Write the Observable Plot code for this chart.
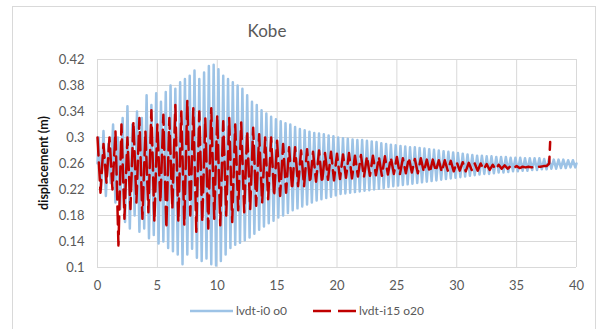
<!DOCTYPE html>
<html>
<head>
<meta charset="utf-8">
<script src="https://cdn.jsdelivr.net/npm/d3@7"></script>
<script src="https://cdn.jsdelivr.net/npm/@observablehq/plot@0.6"></script>
<style>
  html, body { margin: 0; padding: 0; background: #fff; }
  #wrap { position: relative; width: 600px; height: 329px; overflow: hidden; font-family: Lato, "Liberation Sans", sans-serif; }
  #frame { position: absolute; left: 12px; top: 6px; width: 584px; height: 340px; border: 1px solid #d9d9d9; box-sizing: border-box; }
  #title { position: absolute; left: 167px; width: 200px; top: 20px; text-align: center; font-size: 17px; color: #595959; }
  #ylab { position: absolute; left: -10px; top: 154px; width: 110px; height: 18px; text-align: center; transform: rotate(-90deg); font-size: 12.5px; font-weight: bold; color: #111; white-space: nowrap; }
  #chart { position: absolute; left: 0; top: 0; }
  .leg { position: absolute; top: 303px; font-size: 12px; color: #595959; display: flex; align-items: center; white-space: nowrap; }
  .leg svg { margin-right: 3px; }
</style>
</head>
<body>
<div id="wrap">
  <div id="frame"></div>
  <div id="chart"></div>
  <div id="title">Kobe</div>
  <div id="ylab">displacement (m)</div>
  <div class="leg" style="left:190px"><svg width="43" height="6"><line x1="0" y1="3" x2="43" y2="3" stroke="#9dc3e6" stroke-width="2.5"/></svg>lvdt-i0 o0</div>
  <div class="leg" style="left:313px"><svg width="43" height="6"><line x1="0" y1="3" x2="43" y2="3" stroke="#c00000" stroke-width="2.5" stroke-dasharray="18,7"/></svg>lvdt-i15 o20</div>
</div>
<script>
const seriesNames = ["lvdt-i0 o0", "lvdt-i15 o20"];
const xTicks = [0, 5, 10, 15, 20, 25, 30, 35, 40];
const yTicks = [0.1, 0.14, 0.18, 0.22, 0.26, 0.3, 0.34, 0.38, 0.42];

// Blue series: successive cycle peaks and troughs (sample spacing 0.4 s)
const blueStep = 0.4;
const blueMax = [
 0.30,0.31,0.29,0.32,0.30,0.33,0.348,0.32,0.34,0.33,
 0.365,0.35,0.368,0.355,0.37,0.38,0.375,0.385,0.39,0.395,
 0.403,0.39,0.40,0.41,0.412,0.405,0.395,0.39,0.385,0.38,
 0.375,0.365,0.355,0.35,0.342,0.337,0.332,0.328,0.325,0.322,
 0.32,0.316,0.313,0.311,0.309,0.307,0.306,0.305,0.303,0.302,
 0.30,0.299,0.298,0.297,0.296,0.296,0.295,0.294,0.293,0.291,
 0.29,0.289,0.288,0.287,0.286,0.285,0.285,0.284,0.283,0.282,
 0.281,0.28,0.279,0.278,0.277,0.276,0.275,0.274,0.273,0.272,
 0.272,0.271,0.271,0.270,0.270,0.270,0.269,0.269,0.269,0.268,
 0.268,0.268,0.268,0.267,0.267,0.266,0.266,0.266,0.265,0.265
];
const blueMin = [
 0.22,0.21,0.23,0.20,0.19,0.17,0.16,0.18,0.155,0.16,
 0.145,0.15,0.137,0.14,0.13,0.125,0.12,0.105,0.12,0.129,
 0.115,0.11,0.114,0.105,0.103,0.11,0.12,0.13,0.135,0.138,
 0.142,0.146,0.152,0.158,0.163,0.168,0.172,0.177,0.18,0.184,
 0.188,0.191,0.194,0.197,0.20,0.203,0.205,0.207,0.209,0.211,
 0.213,0.214,0.215,0.216,0.217,0.218,0.219,0.22,0.221,0.222,
 0.224,0.225,0.226,0.227,0.228,0.229,0.23,0.231,0.232,0.233,
 0.234,0.235,0.236,0.237,0.238,0.239,0.24,0.241,0.242,0.243,
 0.244,0.244,0.245,0.246,0.246,0.247,0.248,0.248,0.249,0.249,
 0.25,0.25,0.251,0.251,0.252,0.252,0.253,0.253,0.254,0.254
];
const blueStart = 0.26, blueEnd = 0.26;

// Red series: readings every 0.25 s, then the final spike
const redStep = 0.25;
const redVals = [
 0.30,0.215,0.29,0.23,0.30,0.22,0.31,0.134,0.32,0.175,
 0.30,0.19,0.325,0.20,0.33,0.175,0.31,0.185,0.342,0.17,
 0.32,0.20,0.335,0.16,0.33,0.19,0.35,0.17,0.34,0.165,
 0.357,0.18,0.345,0.155,0.34,0.17,0.33,0.16,0.345,0.175,
 0.335,0.165,0.325,0.18,0.33,0.17,0.32,0.188,0.323,0.185,
 0.31,0.19,0.315,0.195,0.305,0.20,0.30,0.205,0.30,0.21,
 0.295,0.21,0.29,0.215,0.285,0.22,0.285,0.225,0.28,0.225,
 0.282,0.23,0.278,0.232,0.28,0.23,0.276,0.235,0.278,0.234,
 0.275,0.236,0.274,0.238,0.276,0.237,0.272,0.24,0.273,0.239,
 0.271,0.241,0.272,0.242,0.27,0.241,0.271,0.243,0.269,0.244,
 0.27,0.243,0.268,0.245,0.269,0.246,0.267,0.245,0.268,0.247,
 0.266,0.246,0.266,0.248,0.265,0.247,0.265,0.249,0.264,0.248,
 0.262,0.249,0.262,0.248,0.261,0.25,0.26,0.249,0.26,0.251,
 0.259,0.25,0.258,0.251,0.258,0.252,0.257,0.252,0.256,0.253,
 0.256,0.253,0.255,0.254,0.255,0.254,0.255,0.255,0.255,0.256,
 0.256
];
const redEndT = [37.72, 37.8];
const redEndV = [0.26, 0.293];

const blue = [{t: 0, v: blueStart}];
blueMax.forEach((m, i) => {
  blue.push({t: i * blueStep + 0.1, v: m});
  blue.push({t: i * blueStep + 0.3, v: blueMin[i]});
});
blue.push({t: 40, v: blueEnd});

const red = redVals.map((v, i) => ({t: i * redStep, v}));
redEndT.forEach((t, i) => red.push({t, v: redEndV[i]}));

const chart = Plot.plot({
  width: 600,
  height: 297,
  marginLeft: 97,
  marginRight: 24,
  marginTop: 59,
  marginBottom: 30,
  style: {fontFamily: "Lato, 'Liberation Sans', sans-serif", fontSize: "13px", color: "#595959", background: "transparent"},
  x: {domain: [0, 40]},
  y: {domain: [0.1, 0.42]},
  marks: [
    Plot.gridY(yTicks, {stroke: "#d9d9d9", strokeOpacity: 1}),
    Plot.gridX(xTicks, {stroke: "#d9d9d9", strokeOpacity: 1}),
    Plot.axisX(xTicks, {tickSize: 0, tickPadding: 13, label: null, tickFormat: d => String(d)}),
    Plot.axisY(yTicks, {tickSize: 0, tickPadding: 13, label: null, tickFormat: d => String(d)}),
    Plot.line(blue, {x: "t", y: "v", stroke: "#9dc3e6", strokeWidth: 2.5, curve: "linear"}),
    Plot.line(red, {x: "t", y: "v", stroke: "#c00000", strokeWidth: 2.5, strokeDasharray: "18,7", curve: "linear"})
  ]
});
document.getElementById("chart").appendChild(chart);
</script>
</body>
</html>
